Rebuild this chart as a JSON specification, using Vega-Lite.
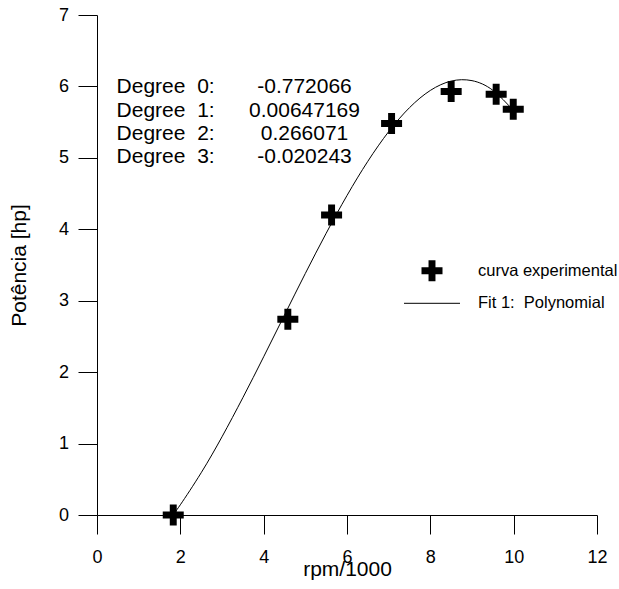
{
  "$schema": "https://vega.github.io/schema/vega-lite/v6.json",
  "width": 500,
  "height": 500,
  "autosize": {"type": "none"},
  "padding": {"left": 97, "top": 15, "right": 22, "bottom": 74},
  "background": "white",
  "config": {
    "view": {"stroke": null},
    "font": "Liberation Sans",
    "axis": {
      "grid": false,
      "domainColor": "black",
      "domainWidth": 1,
      "tickColor": "black",
      "tickWidth": 1,
      "tickSize": 19,
      "labelColor": "black",
      "labelFont": "Liberation Sans",
      "labelFontSize": 18,
      "labelFlush": false,
      "titleColor": "black",
      "titleFont": "Liberation Sans",
      "titleFontSize": 21,
      "titleFontWeight": "normal"
    },
    "legend": {
      "title": null,
      "padding": 0,
      "labelFont": "Liberation Sans",
      "labelFontSize": 16.5,
      "labelColor": "black",
      "symbolOpacity": 1
    }
  },
  "datasets": {
    "measured": [
      {"rpm": 1.83, "hp": 0.0, "series": "curva experimental"},
      {"rpm": 4.58, "hp": 2.74, "series": "curva experimental"},
      {"rpm": 5.63, "hp": 4.2, "series": "curva experimental"},
      {"rpm": 7.07, "hp": 5.48, "series": "curva experimental"},
      {"rpm": 8.5, "hp": 5.93, "series": "curva experimental"},
      {"rpm": 9.58, "hp": 5.89, "series": "curva experimental"},
      {"rpm": 9.99, "hp": 5.68, "series": "curva experimental"}
    ],
    "fit": [
      {"rpm": 1.8, "hp": -0.016},
      {"rpm": 2.0, "hp": 0.143},
      {"rpm": 2.5, "hp": 0.591},
      {"rpm": 3.0, "hp": 1.095},
      {"rpm": 3.5, "hp": 1.642},
      {"rpm": 4.0, "hp": 2.215},
      {"rpm": 4.5, "hp": 2.8},
      {"rpm": 5.0, "hp": 3.382},
      {"rpm": 5.5, "hp": 3.944},
      {"rpm": 6.0, "hp": 4.473},
      {"rpm": 6.5, "hp": 4.952},
      {"rpm": 7.0, "hp": 5.367},
      {"rpm": 7.5, "hp": 5.703},
      {"rpm": 8.0, "hp": 5.944},
      {"rpm": 8.5, "hp": 6.075},
      {"rpm": 9.0, "hp": 6.081},
      {"rpm": 9.5, "hp": 5.946},
      {"rpm": 10.0, "hp": 5.657}
    ],
    "coefficients": [
      {"term": "Degree \u00a00:", "coef": "-0.772066"},
      {"term": "Degree \u00a01:", "coef": "0.00647169"},
      {"term": "Degree \u00a02:", "coef": "0.266071"},
      {"term": "Degree \u00a03:", "coef": "-0.020243"}
    ]
  },
  "layer": [
    {
      "layer": [
        {
          "data": {"name": "fit"},
          "mark": {"type": "line", "strokeWidth": 1, "interpolate": "natural"},
          "encoding": {
            "x": {
              "field": "rpm", "type": "quantitative",
              "scale": {"domain": [0, 12], "nice": false, "zero": false},
              "axis": {"title": "rpm/1000", "values": [0, 2, 4, 6, 8, 10, 12], "format": "d", "labelPadding": 14, "titlePadding": -8}
            },
            "y": {
              "field": "hp", "type": "quantitative",
              "scale": {"domain": [0, 7], "nice": false},
              "axis": {"title": "Potência [hp]", "values": [0, 1, 2, 3, 4, 5, 6, 7], "format": "d", "labelPadding": 9.5, "titlePadding": 29}
            },
            "color": {
              "datum": "Fit 1:\u00a0 Polynomial",
              "type": "nominal",
              "scale": {"range": ["black"]},
              "legend": {
                "orient": "none",
                "legendX": 306.5,
                "legendY": 259.8,
                "symbolType": "stroke",
                "symbolSize": 3136,
                "symbolStrokeWidth": 1,
                "labelOffset": 17.5
              }
            }
          }
        },
        {
          "data": {"name": "measured"},
          "mark": {"type": "point", "filled": true, "fill": "black", "opacity": 1, "size": 441},
          "encoding": {
            "x": {"field": "rpm", "type": "quantitative"},
            "y": {"field": "hp", "type": "quantitative"},
            "shape": {
              "field": "series", "type": "nominal",
              "scale": {
                "domain": ["curva experimental"],
                "range": ["M-1,-0.33H-0.33V-1H0.33V-0.33H1V0.33H0.33V1H-0.33V0.33H-1Z"]
              },
              "legend": {
                "orient": "none",
                "legendX": 324.5,
                "legendY": 245.2,
                "symbolSize": 441,
                "symbolFillColor": "black",
                "symbolStrokeWidth": 0,
                "labelOffset": 35.5
              }
            }
          }
        }
      ]
    },
    {
      "data": {"name": "coefficients"},
      "encoding": {
        "y": {
          "field": "term", "type": "ordinal", "sort": null,
          "scale": {"type": "point", "range": [78.3, 148.3], "padding": 0},
          "axis": null
        }
      },
      "layer": [
        {
          "mark": {"type": "text", "align": "left", "baseline": "alphabetic", "fontSize": 21, "color": "black"},
          "encoding": {
            "x": {"datum": 0.47, "type": "quantitative"},
            "text": {"field": "term"}
          }
        },
        {
          "mark": {"type": "text", "align": "center", "baseline": "alphabetic", "fontSize": 21, "color": "black"},
          "encoding": {
            "x": {"datum": 4.98, "type": "quantitative"},
            "text": {"field": "coef"}
          }
        }
      ]
    }
  ],
  "resolve": {"scale": {"y": "independent"}}
}
